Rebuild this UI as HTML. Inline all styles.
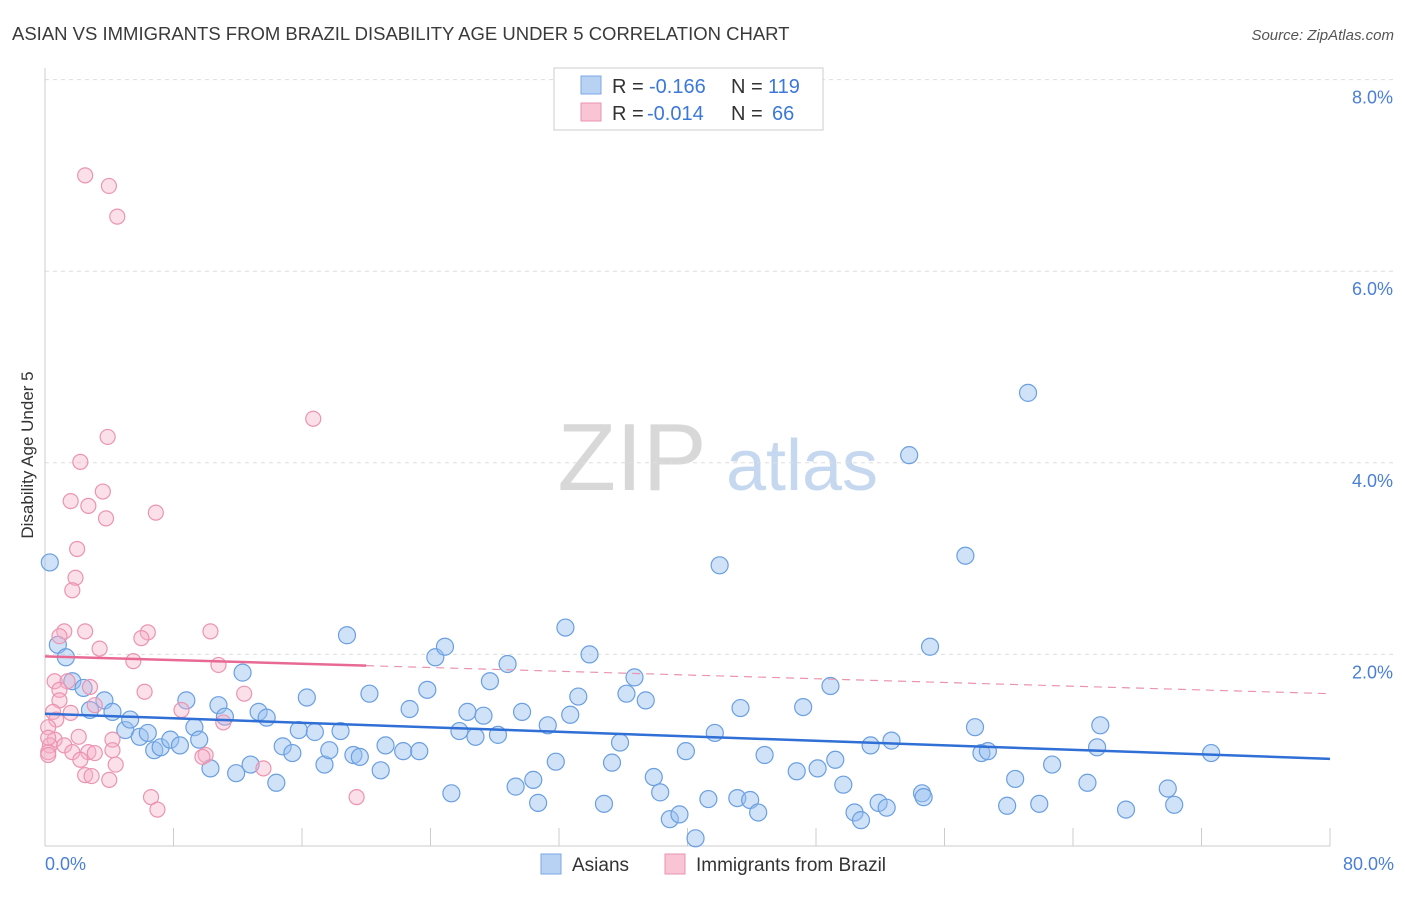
<!DOCTYPE html>
<html><head><meta charset="utf-8">
<style>
body{margin:0;background:#fff;font-family:"Liberation Sans",sans-serif;}
svg text{font-family:"Liberation Sans",sans-serif;}
</style></head>
<body>
<svg id="chart" width="1406" height="892" xmlns="http://www.w3.org/2000/svg">
<text x="12" y="40" font-size="18.5" fill="#3a3a3a">ASIAN VS IMMIGRANTS FROM BRAZIL DISABILITY AGE UNDER 5 CORRELATION CHART</text>
<text x="1394" y="40" font-size="15" fill="#555" font-style="italic" text-anchor="end">Source: ZipAtlas.com</text>
<g>
<text x="632" y="490" font-size="96" fill="#d8d8d8" font-family="Liberation Serif" text-anchor="middle">ZIP</text>
<text x="802" y="490" font-size="72" fill="#c6d8f0" text-anchor="middle">atlas</text>
</g>
<text transform="translate(33,455) rotate(-90)" font-size="17" fill="#333" text-anchor="middle">Disability Age Under 5</text>
<g id="grid"></g>
<g id="axes"></g>
<g id="blue"></g>
<g id="pink"></g>
<g id="trends"></g>
<g>
<rect x="554" y="68" width="269" height="62" fill="#fff" stroke="#ccc"/>
<rect x="581" y="76" width="20" height="18" fill="#b8d2f4" stroke="#7aa8e4"/>
<rect x="581" y="103" width="20" height="18" fill="#f9c4d4" stroke="#eb94b0"/>
<text x="612" y="93" font-size="20" fill="#333">R =</text>
<text x="649" y="93" font-size="20" fill="#3c78d8">-0.166</text>
<text x="731" y="93" font-size="20" fill="#333">N =</text>
<text x="768" y="93" font-size="20" fill="#3c78d8">119</text>
<text x="612" y="120" font-size="20" fill="#333">R =</text>
<text x="647" y="120" font-size="20" fill="#3c78d8">-0.014</text>
<text x="731" y="120" font-size="20" fill="#333">N =</text>
<text x="772" y="120" font-size="20" fill="#3c78d8">66</text>
</g>
<g>
<rect x="541" y="854" width="20" height="20" fill="#b8d2f4" stroke="#7aa8e4"/>
<text x="572" y="871" font-size="19" fill="#333">Asians</text>
<rect x="665" y="854" width="20" height="20" fill="#f9c4d4" stroke="#eb94b0"/>
<text x="696" y="871" font-size="19" fill="#333">Immigrants from Brazil</text>
</g>
</svg>
<script>
const blueX=[0.3,0.8,1.3,1.7,2.4,2.8,3.7,4.2,5.0,5.3,5.9,6.4,6.8,7.2,7.8,8.4,8.8,9.3,9.6,10.3,10.8,11.2,11.9,12.3,12.8,13.3,13.8,14.4,14.8,15.4,15.8,16.3,16.8,17.4,17.7,18.4,18.8,19.2,19.6,20.2,20.9,21.2,22.3,22.7,23.3,23.8,24.3,24.9,25.3,25.8,26.3,26.8,27.3,27.7,28.2,28.8,29.3,29.7,30.4,30.7,31.3,31.8,32.4,32.7,33.2,33.9,34.8,35.3,35.8,36.2,36.7,37.4,37.9,38.3,38.9,39.5,39.9,40.5,41.3,41.7,42.0,43.1,43.3,43.9,44.4,44.8,46.8,47.2,48.1,48.9,49.2,49.7,50.4,50.8,51.4,51.9,52.4,52.7,53.8,54.6,54.7,55.1,57.3,57.9,58.3,58.7,59.9,60.4,61.2,61.9,62.7,64.9,65.5,65.7,67.3,69.9,70.3,72.6];
const blueY=[2.96,2.10,1.97,1.72,1.65,1.42,1.52,1.40,1.21,1.32,1.14,1.18,1.00,1.03,1.11,1.05,1.52,1.24,1.11,0.81,1.47,1.35,0.76,1.81,0.85,1.40,1.34,0.66,1.04,0.97,1.21,1.55,1.19,0.85,1.00,1.20,2.20,0.95,0.93,1.59,0.79,1.05,0.99,1.43,0.99,1.63,1.97,2.08,0.55,1.20,1.40,1.14,1.36,1.72,1.16,1.90,0.62,1.40,0.69,0.45,1.26,0.88,2.28,1.37,1.56,2.00,0.44,0.87,1.08,1.59,1.76,1.52,0.72,0.56,0.28,0.33,0.99,0.08,0.49,1.18,2.93,0.50,1.44,0.48,0.35,0.95,0.78,1.45,0.81,1.67,0.90,0.64,0.35,0.27,1.05,0.45,0.40,1.10,4.08,0.55,0.51,2.08,3.03,1.24,0.97,0.99,0.42,0.70,4.73,0.44,0.85,0.66,1.03,1.26,0.38,0.60,0.43,0.97];
const pinkX=[2.5,3.98,4.5,16.7,3.9,2.2,3.6,1.6,2.7,6.9,3.8,2.0,1.9,1.7,1.2,0.9,2.5,6.4,6.0,10.3,3.4,5.5,10.8,0.6,1.4,2.8,0.9,6.2,12.4,3.1,0.9,8.5,0.5,1.6,0.7,11.1,0.2,2.1,0.6,0.3,1.2,4.2,1.7,2.7,3.1,4.2,0.2,2.2,10.0,9.8,4.4,13.6,2.5,2.9,4.0,6.6,7.0,19.4,0.2,0.2];
const pinkY=[7.00,6.89,6.57,4.46,4.27,4.01,3.70,3.60,3.55,3.48,3.42,3.10,2.80,2.67,2.24,2.19,2.24,2.23,2.17,2.24,2.06,1.93,1.89,1.72,1.72,1.66,1.63,1.61,1.59,1.47,1.52,1.42,1.40,1.39,1.32,1.29,1.24,1.14,1.11,1.05,1.05,1.11,0.98,0.98,0.97,1.00,0.98,0.90,0.95,0.93,0.85,0.81,0.74,0.73,0.69,0.51,0.38,0.51,1.13,0.95];
const yTicks=[2,4,6,8];
const xTicks=[0,8,16,24,32,40,48,56,64,72,80];
const blueTrend=[1.38,0.91];
const pinkTrend=[1.98,1.59];
const pinkSolidEnd=20;
const NS="http://www.w3.org/2000/svg";
const X=v=>45+v/80*1285, Y=v=>846-v*95.8;
function mk(tag,attrs,parent){const e=document.createElementNS(NS,tag);for(const k in attrs)e.setAttribute(k,attrs[k]);document.getElementById(parent).appendChild(e);return e;}
yTicks.forEach(t=>{
 const l=mk('line',{x1:45,x2:1394,y1:Y(t),y2:Y(t),stroke:'#ddd','stroke-dasharray':'4,4'},'grid');
 
 
 const tx=mk('text',{x:1393,y:Y(t)+24,'font-size':18,fill:'#4a7fd4','text-anchor':'end'},'grid');
 tx.textContent=t.toFixed(1)+'%';
 
 
});
const ax=mk('line',{x1:45,x2:1330,y1:846,y2:846,stroke:'#ccc'},'axes');


const ay=mk('line',{x1:45,x2:45,y1:68,y2:846,stroke:'#ccc'},'axes');


xTicks.forEach(t=>{
 const l=mk('line',{x1:X(t),x2:X(t),y1:828,y2:846,stroke:'#ccc'},'axes');
 
 
});
[[0,'start',45],[80,'end',1394]].forEach(a=>{
 const tx=mk('text',{x:a[2],y:870,'font-size':18,fill:'#4a7fd4','text-anchor':a[1]},'axes');
 tx.textContent=a[0].toFixed(1)+'%';
 
 
});
blueX.forEach((x,i)=>{
 const c=mk('circle',{cx:X(x),cy:Y(blueY[i]),r:8.5,fill:'rgba(150,190,240,0.45)',stroke:'#6a9fe0','stroke-width':1.2},'blue');
 
 
});
pinkX.forEach((x,i)=>{
 const c=mk('circle',{cx:X(x),cy:Y(pinkY[i]),r:7.5,fill:'rgba(245,175,200,0.4)',stroke:'#eb94b0','stroke-width':1.2},'pink');
 
 
});
const bt=mk('line',{x1:X(0),y1:Y(blueTrend[0]),x2:X(80),y2:Y(blueTrend[1]),stroke:'#2f6fd6','stroke-width':2.5},'trends');


const pm=pinkTrend[0]+(pinkTrend[1]-pinkTrend[0])*pinkSolidEnd/80;
const ps=mk('line',{x1:X(0),y1:Y(pinkTrend[0]),x2:X(pinkSolidEnd),y2:Y(pm),stroke:'#e86a94','stroke-width':2.5},'trends');


const pd=mk('line',{x1:X(pinkSolidEnd),y1:Y(pm),x2:X(80),y2:Y(pinkTrend[1]),stroke:'#eb94b0','stroke-width':1.2,'stroke-dasharray':'8,6'},'trends');


</script>
</body></html>
